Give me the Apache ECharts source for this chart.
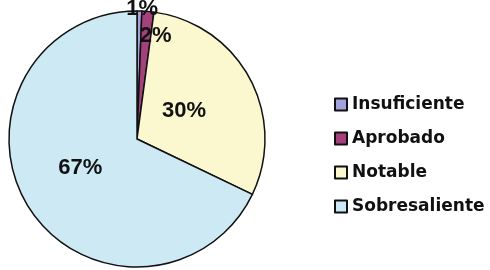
<!DOCTYPE html>
<html>
<head>
<meta charset="utf-8">
<script src="https://cdn.jsdelivr.net/npm/echarts@6/dist/echarts.min.js"></script>
<style>
  html, body { margin: 0; padding: 0; background: #fff; }
  #main { width: 490px; height: 270px; }
</style>
</head>
<body>
<div id="main"></div>
<script>
// categorias y porcentajes
var categorias = ['Insuficiente', 'Aprobado', 'Notable', 'Sobresaliente'];
var valores = [0.6, 1.5, 29.8, 67.4];
var colores = ['#a3a3dc', '#a3417a', '#fbf7cf', '#cde9f4'];

var chart = echarts.init(document.getElementById('main'));

var datos = categorias.map(function (nombre, i) {
    return { name: nombre, value: valores[i], itemStyle: { color: colores[i] } };
});

// ajuste fino de la posicion de las etiquetas
var ajustes = {
    0: { dx: 4, dy: -63 },
    1: { dx: 13, dy: -36 },
    2: { dx: -12, dy: 4 },
    3: { dx: 0, dy: -7 }
};

var option = {
    animation: false,
    legend: {
        orient: 'vertical',
        left: 329,
        top: 91,
        itemWidth: 12,
        itemHeight: 12,
        itemGap: 17,
        icon: 'rect',
        textStyle: {
            fontFamily: 'DejaVu Sans',
            fontWeight: 'bold',
            fontSize: 17,
            color: '#111'
        },
        data: categorias
    },
    series: [{
        type: 'pie',
        center: [137, 139],
        radius: 128,
        startAngle: 90,
        clockwise: true,
        avoidLabelOverlap: false,
        itemStyle: { borderColor: '#111', borderWidth: 1.5 },
        label: {
            show: true,
            position: 'inside',
            fontFamily: 'Liberation Sans',
            fontWeight: 'bold',
            fontSize: 22,
            color: '#111',
            formatter: function (p) { return Math.round(p.value) + '%'; }
        },
        labelLayout: function (p) {
            return ajustes[p.dataIndex] || {};
        },
        labelLine: { show: false },
        emphasis: { disabled: true },
        data: datos
    }]
};
chart.setOption(option);
</script>
</body>
</html>
